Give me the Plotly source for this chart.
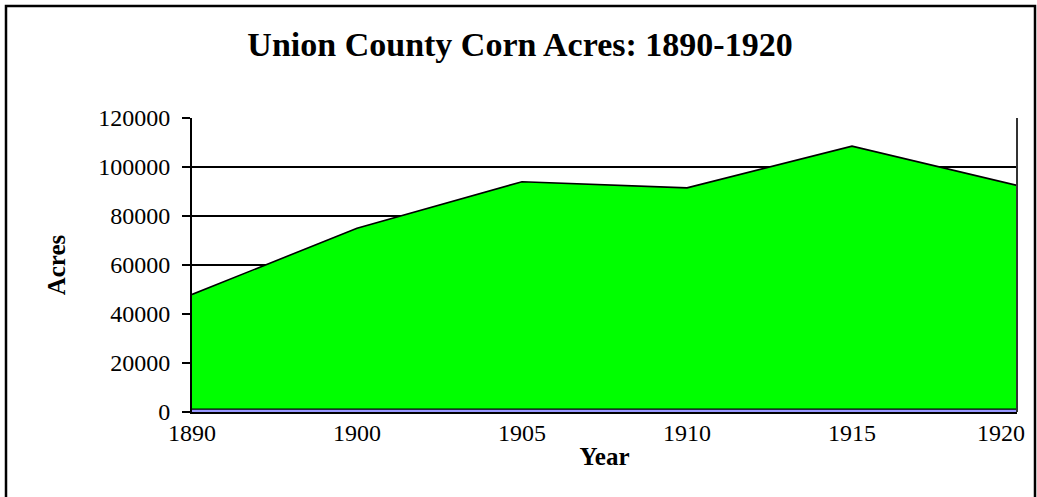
import plotly.graph_objects as go

years = ["1890", "1900", "1905", "1910", "1915", "1920"]
corn_acres = [48000, 75000, 94000, 91500, 108500, 92500]
base_series = [1200, 1200, 1200, 1200, 1200, 1200]
y_ticks = [0, 20000, 40000, 60000, 80000, 100000, 120000]

title_text = "Union County Corn Acres: 1890-1920"
x_title = "Year"
y_title = "Acres"

SERIF = "Liberation Serif, Times New Roman, serif"

fig = go.Figure()
fig.add_trace(go.Scatter(
    x=years, y=corn_acres, mode="lines", fill="tozeroy",
    fillcolor="#00FF00", line=dict(color="black", width=1.6),
    hoverinfo="x+y", showlegend=False,
))
fig.add_trace(go.Scatter(
    x=years, y=base_series, mode="lines", fill="tozeroy",
    fillcolor="#9999FF", line=dict(color="black", width=1.3),
    hoverinfo="skip", showlegend=False,
))

L, R, T, B = 192, 20, 118, 85
W, H = 1037, 497
pw, ph = W - L - R, H - T - B

fig.update_layout(
    width=W, height=H,
    margin=dict(l=L, r=R, t=T, b=B),
    paper_bgcolor="white", plot_bgcolor="white",
    font=dict(family=SERIF, color="black", size=22),
    title=dict(text="<b>" + title_text + "</b>", x=520 / W, xanchor="center",
               y=1 - 44 / H, yanchor="middle",
               font=dict(family=SERIF, size=34, color="black")),
    showlegend=False,
)

fig.update_xaxes(
    type="category", range=[0, len(years) - 1],
    showgrid=False, zeroline=False,
    showline=True, linecolor="black", linewidth=2,
    ticks="", tickmode="array", tickvals=years,
    ticktext=years[:-1] + [""],
    tickfont=dict(family=SERIF, size=24, color="black"),
    ticklabelstandoff=-2,
    title=dict(text="<b>" + x_title + "</b>", standoff=3,
               font=dict(family=SERIF, size=25, color="black")),
    automargin=False,
)
fig.update_yaxes(
    range=[0, 120000], tickmode="array", tickvals=y_ticks,
    ticktext=[str(v) for v in y_ticks],
    showgrid=True, gridcolor="black", gridwidth=1.5,
    zeroline=False, showline=True, linecolor="black", linewidth=2,
    ticks="outside", ticklen=8, tickwidth=2, tickcolor="black",
    tickfont=dict(family=SERIF, size=24, color="black"),
    ticklabelstandoff=7,
    title=dict(text="<b>" + y_title + "</b>", standoff=25,
               font=dict(family=SERIF, size=25, color="black")),
    automargin=False,
)

# last x tick label kept inside the frame
fig.add_annotation(
    x=len(years) - 1, y=0, xref="x", yref="y", text=years[-1],
    showarrow=False, xanchor="center", yanchor="top",
    xshift=-16, yshift=-6,
    font=dict(family=SERIF, size=24, color="black"),
)

# right plot border (dark grey)
fig.add_shape(type="line", xref="paper", yref="paper", x0=1, x1=1, y0=0, y1=1,
              line=dict(color="#333333", width=2))

# outer chart frame
fig.add_shape(type="rect", xref="paper", yref="paper",
              x0=(6 - L) / pw, x1=(1035 - L) / pw,
              y0=(H - B - 500) / ph, y1=(H - B - 6) / ph,
              line=dict(color="black", width=2.5), fillcolor="rgba(0,0,0,0)",
              layer="above")

fig.write_html("out.html", config={"displayModeBar": False},
               post_script="document.body.style.margin='0';document.body.style.overflow='hidden';")
